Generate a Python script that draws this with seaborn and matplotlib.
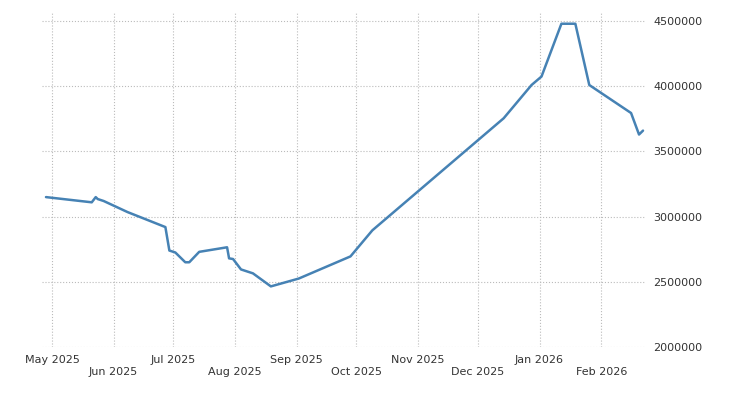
import pandas as pd
import matplotlib
matplotlib.use("Agg")
import matplotlib.pyplot as plt
import matplotlib.dates as mdates
import seaborn as sns

dates = ["2025-04-28", "2025-05-21", "2025-05-23", "2025-05-24", "2025-05-27", "2025-06-08",
         "2025-06-27", "2025-06-29", "2025-07-02", "2025-07-07", "2025-07-09", "2025-07-14",
         "2025-07-28", "2025-07-29", "2025-07-31", "2025-08-04", "2025-08-10", "2025-08-19",
         "2025-09-02", "2025-09-28", "2025-10-09", "2025-12-14", "2025-12-28", "2026-01-02",
         "2026-01-12", "2026-01-19", "2026-01-26", "2026-02-16", "2026-02-20", "2026-02-22"]
values = [3150000, 3110000, 3150000, 3135000, 3120000, 3035000,
          2920000, 2740000, 2725000, 2650000, 2650000, 2730000,
          2765000, 2680000, 2675000, 2595000, 2565000, 2465000,
          2525000, 2695000, 2895000, 3755000, 4010000, 4075000,
          4480000, 4480000, 4010000, 3795000, 3630000, 3660000]
month_ticks = pd.date_range("2025-05-01", "2026-02-01", freq="MS")

df = pd.DataFrame({"date": pd.to_datetime(dates), "value": values})

sns.set_style("white")
fig = plt.figure(figsize=(7.3, 4), dpi=100)
ax = fig.add_axes([42 / 730, 53 / 400, 603 / 730, 335 / 400])
sns.lineplot(data=df, x="date", y="value", ax=ax, color="#4682b4", linewidth=1.8)

ax.set_xlim(pd.Timestamp("2025-04-26"), pd.Timestamp("2026-02-23"))
ax.set_ylim(2000000, 4570000)
ax.set_xticks(month_ticks)
ax.set_xticklabels([d.strftime("%b %Y") if i % 2 == 0 else "\n" + d.strftime("%b %Y")
                    for i, d in enumerate(month_ticks)], fontsize=8, color="#333333")
ax.set_yticks(range(2000000, 4500001, 500000))
ax.yaxis.tick_right()
ax.set_yticklabels([str(v) for v in range(2000000, 4500001, 500000)], fontsize=8, color="#333333")
ax.tick_params(length=0, pad=6)
ax.grid(True, linestyle=":", color="#bbbbbb", linewidth=0.8)
for s in ax.spines.values():
    s.set_visible(False)
ax.set_xlabel("")
ax.set_ylabel("")
fig.savefig("out.png", dpi=100)
